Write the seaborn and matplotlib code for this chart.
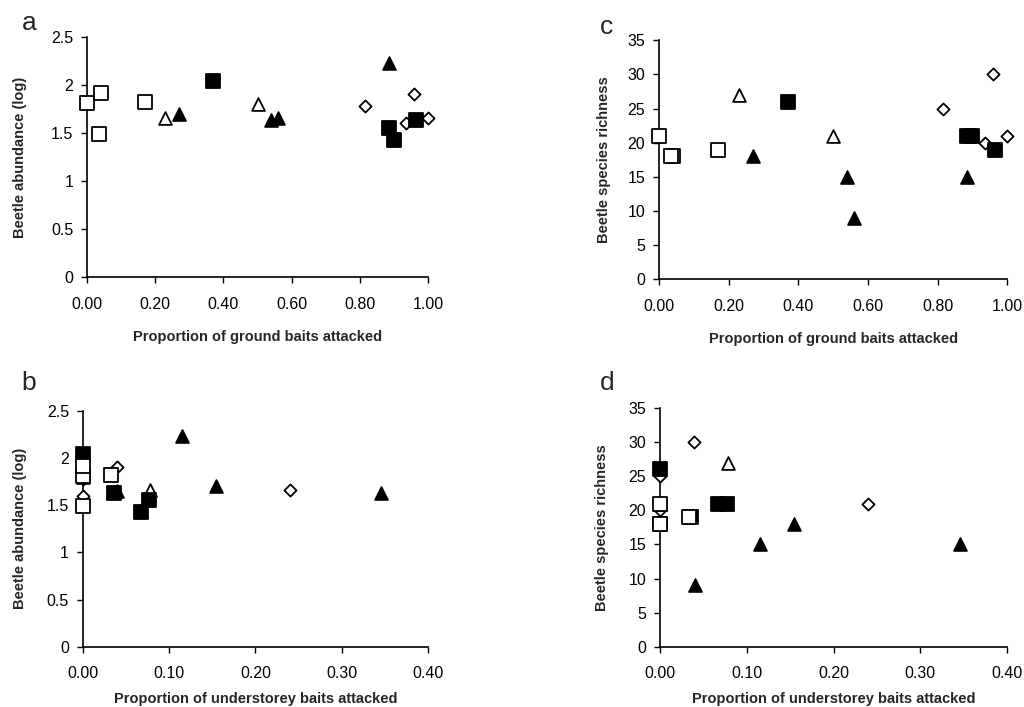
import numpy as np
import pandas as pd
import matplotlib
matplotlib.use('Agg')
import matplotlib.pyplot as plt
import seaborn as sns
from matplotlib.ticker import FormatStrFormatter

# site data
group = ['osq', 'osq', 'osq', 'osq',
         'otri', 'otri',
         'ftri', 'ftri', 'ftri', 'ftri',
         'fsq', 'fsq', 'fsq', 'fsq',
         'dia', 'dia', 'dia', 'dia']
ground = [0.00, 0.04, 0.035, 0.17,
          0.23, 0.50,
          0.27, 0.54, 0.56, 0.885,
          0.37, 0.885, 0.90, 0.965,
          0.815, 0.935, 0.96, 1.00]
understorey = [0.00, 0.00, 0.00, 0.033,
               0.078, 0.00,
               0.154, 0.346, 0.040, 0.115,
               0.00, 0.077, 0.067, 0.036,
               0.00, 0.00, 0.039, 0.24]
abundance = [1.81, 1.91, 1.49, 1.82,
             1.66, 1.80,
             1.70, 1.63, 1.65, 2.23,
             2.04, 1.55, 1.43, 1.63,
             1.78, 1.60, 1.90, 1.66]
richness = [21, 18, 18, 19,
            27, 21,
            18, 15, 9, 15,
            26, 21, 21, 19,
            25, 20, 30, 21]

df = pd.DataFrame({'group': group, 'ground': ground, 'understorey': understorey,
                   'abundance': abundance, 'richness': richness})

# draw order: diamonds, triangles, filled squares, open squares
styles = {
    'dia': dict(marker='D', facecolor='white', s=38),
    'otri': dict(marker='^', facecolor='white', s=85),
    'ftri': dict(marker='^', facecolor='black', s=85),
    'fsq': dict(marker='s', facecolor='black', s=90),
    'osq': dict(marker='s', facecolor='white', s=90),
}

sns.set_style('ticks')
plt.rcParams['font.family'] = ['Liberation Sans', 'DejaVu Sans']

fig = plt.figure(figsize=(10.24, 7.07), dpi=100)
ax_a = fig.add_axes([0.085, 0.608, 0.333, 0.340])
ax_c = fig.add_axes([0.6436, 0.605, 0.340, 0.338])
ax_b = fig.add_axes([0.081, 0.085, 0.337, 0.334])
ax_d = fig.add_axes([0.6445, 0.085, 0.339, 0.338])

panels = [
    (ax_a, 'ground', 'abundance', 1.0, 2.5, 0.5, 0.2, 13, 17),
    (ax_c, 'ground', 'richness', 1.0, 35, 5, 0.2, 13, 12),
    (ax_b, 'understorey', 'abundance', 0.4, 2.5, 0.5, 0.1, 7.5, 14),
    (ax_d, 'understorey', 'richness', 0.4, 35, 5, 0.1, 7.5, 14),
]

xlabels = {'ground': 'Proportion of ground baits attacked',
           'understorey': 'Proportion of understorey baits attacked'}
ylabels = {'abundance': 'Beetle abundance (log)',
           'richness': 'Beetle species richness'}

for ax, xc, yc, xmax, ymax, ystep, xstep, xpad, ypad in panels:
    for g in ['dia', 'otri', 'ftri', 'fsq', 'osq']:
        st = styles[g]
        sub = df[df['group'] == g]
        sns.scatterplot(data=sub, x=xc, y=yc, ax=ax, marker=st['marker'],
                        s=st['s'], color=st['facecolor'], edgecolor='black',
                        linewidth=1.3, clip_on=False, zorder=3, legend=False)
    ax.set_xlim(0, xmax)
    ax.set_ylim(0, ymax)
    ax.set_xticks(np.arange(0, xmax + 1e-9, xstep))
    ax.set_yticks(np.arange(0, ymax + 1e-9, ystep))
    ax.xaxis.set_major_formatter(FormatStrFormatter('%.2f'))
    ax.yaxis.set_major_formatter(FormatStrFormatter('%g'))
    ax.tick_params(direction='out', length=4, width=1, labelsize=11.5,
                   colors='black')
    ax.tick_params(axis='x', pad=10)
    ax.tick_params(axis='y', pad=6)
    for sp in ['left', 'bottom']:
        ax.spines[sp].set_linewidth(1.2)
        ax.spines[sp].set_color('black')
    sns.despine(ax=ax)
    ax.set_xlabel(xlabels[xc], fontsize=10.5, fontweight='bold', labelpad=xpad)
    ax.set_ylabel(ylabels[yc], fontsize=10.5, fontweight='bold', labelpad=ypad)

fig.text(0.021, 0.967, 'a', fontsize=19, va='center')
fig.text(0.586, 0.962, 'c', fontsize=19, va='center')
fig.text(0.021, 0.458, 'b', fontsize=19, va='center')
fig.text(0.586, 0.458, 'd', fontsize=19, va='center')

fig.savefig('out.png', dpi=100)
